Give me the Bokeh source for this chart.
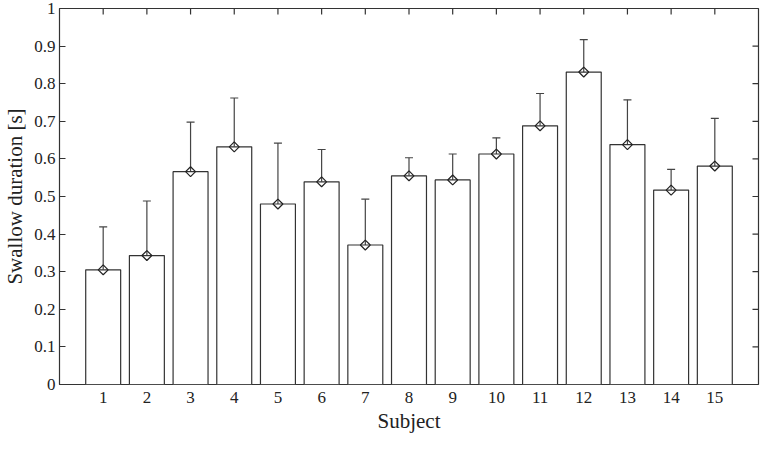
import math
from bokeh.plotting import figure
from bokeh.models import ColumnDataSource, Whisker, TeeHead, FixedTicker, Range1d
from bokeh.embed import file_html
from bokeh.resources import INLINE

# ---- data ----
subjects = [1, 2, 3, 4, 5, 6, 7, 8, 9, 10, 11, 12, 13, 14, 15]
mean_duration = [0.305, 0.343, 0.566, 0.632, 0.480, 0.539, 0.371, 0.555,
                 0.544, 0.613, 0.688, 0.831, 0.638, 0.517, 0.581]
sd_duration = [0.114, 0.145, 0.132, 0.130, 0.162, 0.086, 0.122, 0.048,
               0.069, 0.043, 0.086, 0.086, 0.119, 0.055, 0.127]
y_ticks = [0.0, 0.1, 0.2, 0.3, 0.4, 0.5, 0.6, 0.7, 0.8, 0.9, 1.0]
y_tick_labels = ["0", "0.1", "0.2", "0.3", "0.4", "0.5", "0.6", "0.7",
                 "0.8", "0.9", "1"]
x_label = "Subject"
y_label = "Swallow duration [s]"

upper = [m + s for m, s in zip(mean_duration, sd_duration)]
src = ColumnDataSource(dict(x=subjects, mean=mean_duration, upper=upper))

x_end = len(subjects) + 1
y_end = y_ticks[-1]

FONT = "Liberation Serif"
LINE = "#333333"

p = figure(width=760, height=435, output_backend="svg", toolbar_location=None,
           x_range=Range1d(0, x_end), y_range=Range1d(y_ticks[0], y_end),
           min_border_left=10, min_border_right=2, min_border_top=8,
           min_border_bottom=10)
p.background_fill_color = "white"
p.border_fill_color = "white"
p.outline_line_color = LINE
p.outline_line_width = 1.2
p.grid.visible = False

p.vbar(x="x", top="mean", bottom=0, width=0.8, source=src,
       fill_color="white", line_color=LINE, line_width=1.2)

w = Whisker(base="x", upper="upper", lower="mean", source=src,
            line_color="#444444", line_width=1.2,
            upper_head=TeeHead(size=8, line_color="#444444", line_width=1.2),
            lower_head=None)
p.add_layout(w)

p.scatter(x="x", y="mean", source=src, marker="square", angle=math.pi / 4,
          size=7, fill_color=None, line_color="#222222", line_width=1.2)

# mirrored inward ticks on the top and right edges of the frame
p.ray(x=subjects, y=[y_end] * len(subjects), length=6, length_units="screen",
      angle=-math.pi / 2, line_color=LINE, line_width=1.2)
p.ray(x=[x_end] * len(y_ticks), y=y_ticks, length=6, length_units="screen",
      angle=math.pi, line_color=LINE, line_width=1.2)

# bottom axis
xa = p.xaxis[0]
xa.ticker = FixedTicker(ticks=subjects)
xa.axis_label = x_label
# left axis
ya = p.yaxis[0]
ya.ticker = FixedTicker(ticks=y_ticks)
ya.major_label_overrides = dict(zip(y_ticks, y_tick_labels))
ya.axis_label = y_label

for ax in (xa, ya):
    ax.axis_line_color = None
    ax.minor_tick_line_color = None
    ax.major_tick_out = 0
    ax.major_tick_line_color = LINE
    ax.major_tick_line_width = 1.2
    ax.major_label_text_font = FONT
    ax.major_label_text_font_size = "17px"
    ax.major_label_text_color = "#222222"
    ax.axis_label_text_font = FONT
    ax.axis_label_text_font_size = "21px"
    ax.axis_label_text_font_style = "normal"
    ax.axis_label_text_color = "#222222"
xa.major_tick_in = 0
xa.major_label_standoff = 7
xa.axis_label_standoff = 3
ya.major_tick_in = 6
ya.major_label_standoff = 4
ya.axis_label_standoff = 4

open("out.html", "w").write(file_html(p, INLINE))
